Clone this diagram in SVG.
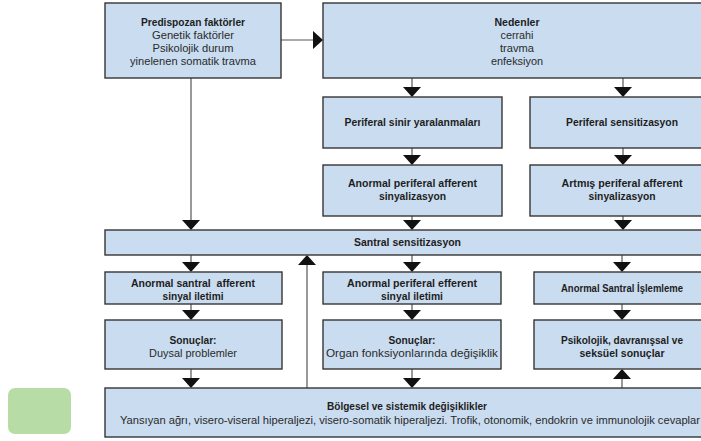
<svg xmlns="http://www.w3.org/2000/svg" width="701" height="441" viewBox="0 0 701 441">
  <style>
    .box { fill: #c9dcf0; stroke: #353535; stroke-width: 1.4; }
    .t { font-family: "Liberation Sans", Arial, sans-serif; font-size: 10.5px; fill: #2a2a2a; text-anchor: middle; }
    .b { font-weight: 700; fill: #1e1e1e; }
    .ln { stroke: #555; stroke-width: 1.2; fill: none; }
  </style>
  <defs>
    <polygon id="hd" points="-9,-10 9,-10 0,0" fill="#111"/>
    <polygon id="hu" points="-9,10 9,10 0,0" fill="#111"/>
  </defs>
  <rect width="701" height="441" fill="#ffffff"/>

  <!-- connectors -->
  <g id="connectors">
    <path class="ln" d="M281 40 H314"/>
    <polygon points="313,31 313,49 323,40" fill="#111"/>
    <path class="ln" d="M191 78 V221"/>
    <use href="#hd" x="191" y="230"/>
    <path class="ln" d="M412 78 V88"/>
    <use href="#hd" x="412" y="97"/>
    <path class="ln" d="M623 78 V88"/>
    <use href="#hd" x="623" y="97"/>
    <path class="ln" d="M412 148 V156"/>
    <use href="#hd" x="412" y="165"/>
    <path class="ln" d="M623 148 V156"/>
    <use href="#hd" x="623" y="165"/>
    <path class="ln" d="M412 216 V221"/>
    <use href="#hd" x="412" y="230"/>
    <path class="ln" d="M623 216 V221"/>
    <use href="#hd" x="623" y="230"/>
    <path class="ln" d="M191 255 V263"/>
    <use href="#hd" x="191" y="272"/>
    <path class="ln" d="M412 255 V263"/>
    <use href="#hd" x="412" y="272"/>
    <path class="ln" d="M622 255 V263"/>
    <use href="#hd" x="622" y="272"/>
    <path class="ln" d="M191 304 V311"/>
    <use href="#hd" x="191" y="320"/>
    <path class="ln" d="M412 304 V311"/>
    <use href="#hd" x="412" y="320"/>
    <path class="ln" d="M622 304 V311"/>
    <use href="#hd" x="622" y="320"/>
    <path class="ln" d="M191 369 V379"/>
    <use href="#hd" x="191" y="388"/>
    <path class="ln" d="M412 369 V379"/>
    <use href="#hd" x="412" y="388"/>
    <path class="ln" d="M622 388 V378"/>
    <use href="#hu" x="622" y="369"/>
    <path class="ln" d="M307 388 V264"/>
    <use href="#hu" x="307" y="255"/>
  </g>

  <!-- legend swatch -->
  <rect x="8" y="388" width="63" height="46" rx="7" fill="#b8dca6"/>

  <g id="predispozan">
    <rect class="box" x="105" y="3" width="176" height="75"/>
    <text class="t b" x="193" y="26" textLength="104" lengthAdjust="spacingAndGlyphs">Predispozan faktörler</text>
    <text class="t" x="193" y="39" textLength="82" lengthAdjust="spacingAndGlyphs">Genetik faktörler</text>
    <text class="t" x="193" y="52" textLength="81" lengthAdjust="spacingAndGlyphs">Psikolojik durum</text>
    <text class="t" x="193" y="65" textLength="126" lengthAdjust="spacingAndGlyphs">yinelenen somatik travma</text>
  </g>

  <g id="nedenler">
    <rect class="box" x="323" y="3" width="390" height="75"/>
    <text class="t b" x="517" y="26" textLength="45" lengthAdjust="spacingAndGlyphs">Nedenler</text>
    <text class="t" x="517" y="39" textLength="33" lengthAdjust="spacingAndGlyphs">cerrahi</text>
    <text class="t" x="517" y="52" textLength="34" lengthAdjust="spacingAndGlyphs">travma</text>
    <text class="t" x="517" y="65" textLength="52" lengthAdjust="spacingAndGlyphs">enfeksiyon</text>
  </g>

  <g id="periferal-sinir">
    <rect class="box" x="323" y="97" width="179" height="51"/>
    <text class="t b" x="412.5" y="126" textLength="136" lengthAdjust="spacingAndGlyphs">Periferal sinir yaralanmaları</text>
  </g>

  <g id="periferal-sensitizasyon">
    <rect class="box" x="530" y="97" width="186" height="51"/>
    <text class="t b" x="622" y="126" textLength="112" lengthAdjust="spacingAndGlyphs">Periferal sensitizasyon</text>
  </g>

  <g id="anormal-periferal-afferent">
    <rect class="box" x="323" y="165" width="179" height="51"/>
    <text class="t b" x="412.5" y="187" textLength="129" lengthAdjust="spacingAndGlyphs">Anormal periferal afferent</text>
    <text class="t b" x="412.5" y="200" textLength="67" lengthAdjust="spacingAndGlyphs">sinyalizasyon</text>
  </g>

  <g id="artmis-periferal-afferent">
    <rect class="box" x="530" y="165" width="186" height="51"/>
    <text class="t b" x="622" y="187" textLength="121" lengthAdjust="spacingAndGlyphs">Artmış periferal afferent</text>
    <text class="t b" x="622" y="200" textLength="67" lengthAdjust="spacingAndGlyphs">sinyalizasyon</text>
  </g>

  <g id="santral-sensitizasyon">
    <rect class="box" x="105" y="230" width="610" height="25"/>
    <text class="t b" x="407.5" y="246" textLength="107" lengthAdjust="spacingAndGlyphs">Santral sensitizasyon</text>
  </g>

  <g id="anormal-santral-afferent">
    <rect class="box" x="105" y="272" width="177" height="32"/>
    <text class="t b" x="193" y="287" textLength="124" lengthAdjust="spacingAndGlyphs" xml:space="preserve">Anormal santral  afferent</text>
    <text class="t b" x="193" y="300" textLength="61" lengthAdjust="spacingAndGlyphs">sinyal iletimi</text>
  </g>

  <g id="anormal-periferal-efferent">
    <rect class="box" x="323" y="272" width="178" height="32"/>
    <text class="t b" x="412" y="287" textLength="130" lengthAdjust="spacingAndGlyphs">Anormal periferal efferent</text>
    <text class="t b" x="412" y="300" textLength="62" lengthAdjust="spacingAndGlyphs">sinyal iletimi</text>
  </g>

  <g id="anormal-santral-islemleme">
    <rect class="box" x="534" y="272" width="180" height="32"/>
    <text class="t b" x="622" y="291.5" textLength="122" lengthAdjust="spacingAndGlyphs">Anormal Santral İşlemleme</text>
  </g>

  <g id="sonuclar-duysal">
    <rect class="box" x="105" y="320" width="177" height="49"/>
    <text class="t b" x="193" y="344" textLength="47" lengthAdjust="spacingAndGlyphs">Sonuçlar:</text>
    <text class="t" x="193" y="356.5" textLength="88" lengthAdjust="spacingAndGlyphs">Duysal problemler</text>
  </g>

  <g id="sonuclar-organ">
    <rect class="box" x="323" y="320" width="178" height="49"/>
    <text class="t b" x="412" y="344" textLength="47" lengthAdjust="spacingAndGlyphs">Sonuçlar:</text>
    <text class="t" x="412" y="356.5" textLength="172" lengthAdjust="spacingAndGlyphs">Organ fonksiyonlarında değişiklik</text>
  </g>

  <g id="psikolojik-sonuclar">
    <rect class="box" x="534" y="320" width="180" height="49"/>
    <text class="t b" x="622" y="344" textLength="122" lengthAdjust="spacingAndGlyphs">Psikolojik, davranışsal ve</text>
    <text class="t b" x="622" y="356.5" textLength="85" lengthAdjust="spacingAndGlyphs">seksüel sonuçlar</text>
  </g>

  <g id="bolgesel-sistemik">
    <rect class="box" x="105" y="388" width="610" height="49"/>
    <text class="t b" x="407" y="410" textLength="160" lengthAdjust="spacingAndGlyphs">Bölgesel ve sistemik değişiklikler</text>
    <text class="t" x="410" y="424" textLength="580" lengthAdjust="spacingAndGlyphs">Yansıyan ağrı, visero-viseral hiperaljezi, visero-somatik hiperaljezi. Trofik, otonomik, endokrin ve immunolojik cevaplar</text>
  </g>
</svg>
